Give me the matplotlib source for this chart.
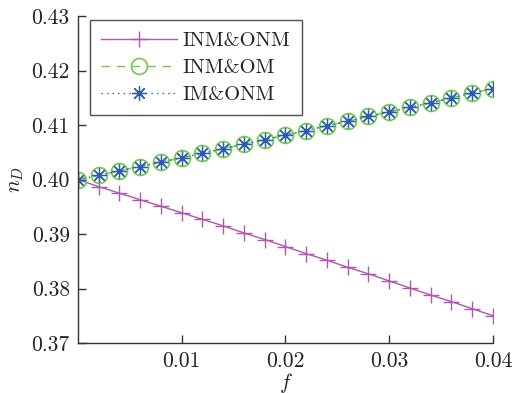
import matplotlib
matplotlib.use("Agg")
import matplotlib.pyplot as plt

f = [0.000, 0.002, 0.004, 0.006, 0.008, 0.010, 0.012, 0.014, 0.016, 0.018, 0.020,
     0.022, 0.024, 0.026, 0.028, 0.030, 0.032, 0.034, 0.036, 0.038, 0.040]
inm_onm = [0.4000, 0.3987, 0.3975, 0.3963, 0.3951, 0.3939, 0.3927, 0.3915, 0.3902, 0.3890, 0.3877,
           0.3864, 0.3852, 0.3839, 0.3827, 0.3814, 0.3801, 0.3788, 0.3776, 0.3763, 0.3750]
inm_om = [0.4000, 0.4008, 0.4016, 0.4024, 0.4032, 0.4040, 0.4048, 0.4057, 0.4065, 0.4073, 0.4082,
          0.4090, 0.4099, 0.4107, 0.4116, 0.4124, 0.4133, 0.4141, 0.4150, 0.4159, 0.4167]
im_onm = [0.4000, 0.4008, 0.4016, 0.4024, 0.4032, 0.4040, 0.4048, 0.4057, 0.4065, 0.4073, 0.4082,
          0.4090, 0.4099, 0.4107, 0.4116, 0.4124, 0.4133, 0.4141, 0.4150, 0.4159, 0.4167]
labels = ["INM&ONM", "INM&OM", "IM&ONM"]
xticks = [0.01, 0.02, 0.03, 0.04]
yticks = [0.37, 0.38, 0.39, 0.40, 0.41, 0.42, 0.43]

plt.rcParams['font.family'] = 'serif'
plt.rcParams['font.serif'] = ['cmr10', 'DejaVu Serif']
plt.rcParams['mathtext.fontset'] = 'cm'
plt.rcParams['axes.formatter.use_mathtext'] = True

fig = plt.figure(figsize=(5.2, 3.94), dpi=100)
ax = fig.add_axes([0.15, 0.1294, 0.798, 0.8296])

purple = '#ad58ad'
green = '#72c84a'
blue = '#2b5cb0'

ax.plot(f, inm_onm, '-', color=purple, lw=1.0, marker='+', ms=11, mew=1.0, label=labels[0])
ax.plot(f, inm_om, '--', color=green, lw=1.0, marker='o', ms=11.5, mfc='none', mew=1.2,
        dashes=(6, 5), label=labels[1])
ax.plot(f, im_onm, ':', color=blue, lw=1.0, marker=(8, 2, 0), ms=10.5, mew=0.9,
        dashes=(1, 3), label=labels[2])

ax.set_xlim(0, 0.04)
ax.set_ylim(0.37, 0.43)
ax.set_xticks(xticks)
ax.set_xticklabels(['0.01', '0.02', '0.03', '0.04'])
ax.set_yticks(yticks)
ax.set_yticklabels(['0.37', '0.38', '0.39', '0.40', '0.41', '0.42', '0.43'])
for s in ['top', 'right']:
    ax.spines[s].set_visible(False)
for s in ['left', 'bottom']:
    ax.spines[s].set_color('#333333')
    ax.spines[s].set_linewidth(1.0)
ax.tick_params(direction='in', length=6, width=1.0, color='#333333', labelsize=15.5,
               labelcolor='#222222', pad=6)

ax.set_xlabel('$f$', fontsize=15.5, labelpad=0, color='#222222')
ax.set_ylabel('$n_D$', fontsize=15.5, labelpad=4, color='#222222')

leg = ax.legend(loc='upper left', bbox_to_anchor=(0.029, 0.988), fontsize=14.8, frameon=True,
                fancybox=False, edgecolor='#222222', handlelength=3.7, handletextpad=0.25,
                borderpad=0.55, labelspacing=0.42, borderaxespad=0.0)
leg.get_frame().set_linewidth(1.0)
for t in leg.get_texts():
    t.set_color('#222222')

fig.savefig('out.png', dpi=100)
